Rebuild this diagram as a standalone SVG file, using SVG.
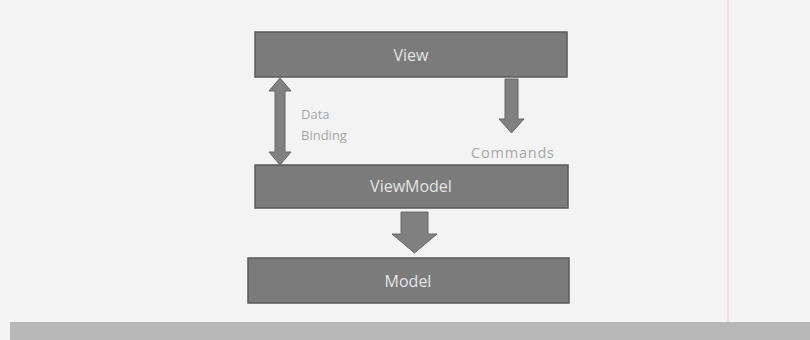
<svg xmlns="http://www.w3.org/2000/svg" width="810" height="340" viewBox="0 0 810 340">
  <defs>
    <style>
      .box { fill: #7b7b7b; stroke: #5a5a5a; stroke-width: 1.5; }
      .boxlabel { font-family: "Open Sans", "Noto Sans", sans-serif; font-size: 16px; fill: #e4e4e4; text-anchor: middle; }
      .arrow { fill: #808080; stroke: #666; stroke-width: 1; }
      .note { font-family: "Open Sans", "Noto Sans", sans-serif; font-size: 13px; fill: #a8a8a8; }
      .cmd { font-size: 14.5px; }
    </style>
  </defs>
  <rect x="0" y="0" width="810" height="340" fill="#f3f3f3"/>
  <line x1="728" y1="0" x2="728" y2="322" stroke="#efcfcf" stroke-width="1"/>
  <rect x="10" y="322" width="800" height="18" fill="#b8b8b8"/>

  <g id="view">
    <rect class="box" x="255" y="32" width="312" height="45"/>
    <text class="boxlabel" x="411" y="61">View</text>
  </g>
  <g id="viewmodel">
    <rect class="box" x="255" y="165" width="313" height="43"/>
    <text class="boxlabel" x="411" y="192">ViewModel</text>
  </g>
  <g id="model">
    <rect class="box" x="248" y="258" width="321" height="45"/>
    <text class="boxlabel" x="408" y="287">Model</text>
  </g>

  <g id="connectors">
    <!-- Data Binding double arrow -->
    <polygon class="arrow" points="280,78 291,91 285,91 285,152 291,152 280,165 269,152 275,152 275,91 269,91"/>
    <text class="note" x="301" y="119">Data</text>
    <text class="note" x="301" y="140">Binding</text>
    <!-- Commands arrow -->
    <polygon class="arrow" points="505,79 518,79 518,119 524,119 511.5,133 499,119 505,119"/>
    <text class="note cmd" x="471" y="158" textLength="83" lengthAdjust="spacing">Commands</text>
    <!-- ViewModel to Model -->
    <polygon class="arrow" points="401,212 428,212 428,234 437,234 414.5,253 392,234 401,234"/>
  </g>
</svg>
